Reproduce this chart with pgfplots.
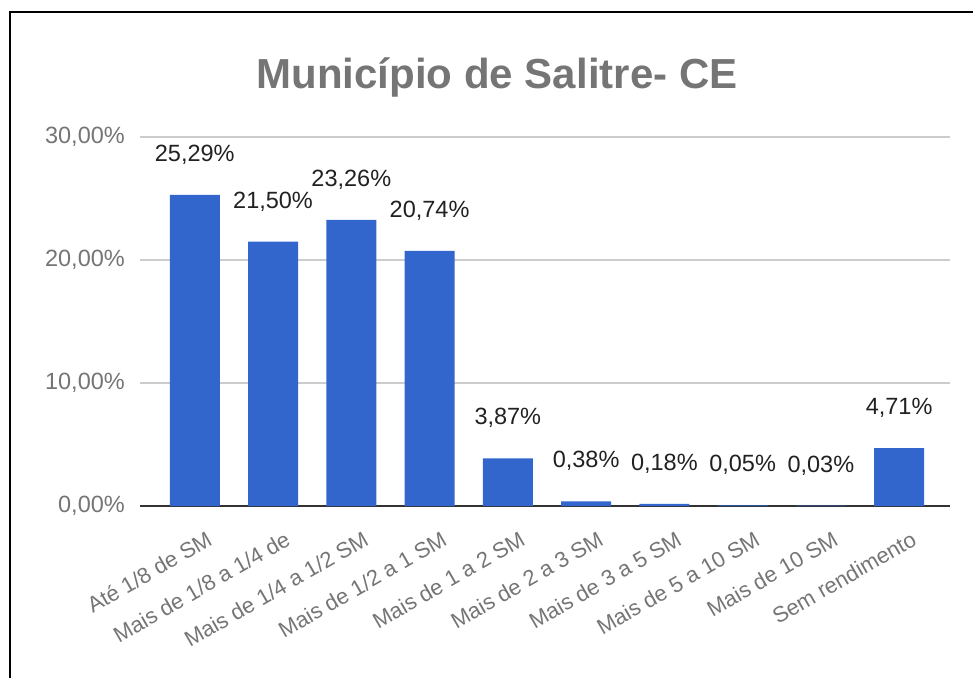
\documentclass[border=0pt]{standalone}
\usepackage{pgfplots}
\pgfplotsset{compat=1.18}
\usepackage{fontspec}
\setmainfont{Liberation Sans}
\definecolor{barblue}{HTML}{3366CC}
\definecolor{labgray}{HTML}{757575}
\definecolor{gridgray}{HTML}{CCCCCC}
\definecolor{basegray}{HTML}{333333}
\definecolor{valtext}{HTML}{212121}

\begin{document}
\begin{tikzpicture}
\useasboundingbox (0,0) rectangle (973pt,678pt);
% frame of the screenshot
\draw[line width=2.5pt] (10pt,0pt) -- (10pt,666pt) -- (973pt,666pt);
\node[anchor=base, text=labgray, font=\fontsize{42}{50}\selectfont\bfseries]
  at (497pt,589pt) {Município de Salitre- CE};
\begin{axis}[
  at={(140pt,172pt)}, anchor=south west,
  scale only axis, width=810pt, height=369pt,
  xmin=-0.7, xmax=9.65, ymin=0, ymax=30,
  ybar, bar width=50pt, clip=false,
  axis x line*=bottom, axis y line*=left,
  y axis line style={draw=none},
  x axis line style={-, basegray, line width=2pt},
  major tick length=0pt,
  ymajorgrids, major grid style={gridgray, line width=2pt},
  xtick={0,...,9},
  xticklabels={Até 1/8 de SM, Mais de 1/8 a 1/4 de, Mais de 1/4 a 1/2 SM,
    Mais de 1/2 a 1 SM, Mais de 1 a 2 SM, Mais de 2 a 3 SM, Mais de 3 a 5 SM,
    Mais de 5 a 10 SM, Mais de 10 SM, Sem rendimento},
  xticklabel style={inner sep=0pt, xshift=15pt, yshift=-31pt, rotate=30, anchor=east,
    text=labgray, font=\fontsize{22}{26}\selectfont},
  ytick={0,10,20,30},
  yticklabels={{0,00\%},{10,00\%},{20,00\%},{30,00\%}},
  yticklabel style={inner sep=0pt, xshift=-15pt, anchor=east,
    text=labgray, font=\fontsize{23.5}{28}\selectfont},
  nodes near coords={\pgfmathprintnumber[fixed,fixed zerofill,precision=2,use comma,assume math mode=true]{\pgfplotspointmeta}\%},
  nodes near coords style={anchor=base, yshift=33.5pt, inner sep=0pt,
    text=valtext, font=\fontsize{23.5}{28}\selectfont},
]
\addplot[fill=barblue, draw=none] coordinates {
  (0,25.29) (1,21.50) (2,23.26) (3,20.74) (4,3.87)
  (5,0.38) (6,0.18) (7,0.05) (8,0.03) (9,4.71)
};
\end{axis}
\end{tikzpicture}
\end{document}
